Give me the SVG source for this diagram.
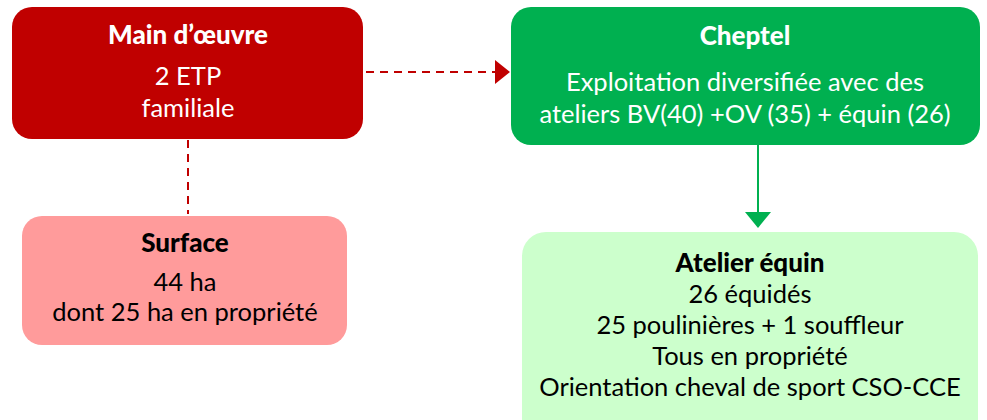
<svg xmlns="http://www.w3.org/2000/svg" width="987" height="420" viewBox="0 0 987 420">
<defs>
<style>
text{font-family:Lato,"Liberation Sans",sans-serif;font-size:25.5px;text-anchor:middle}
.b{font-weight:900;font-size:26px}
.w{fill:#ffffff}
.k{fill:#000000}
.dash{stroke:#C00000;stroke-width:2;stroke-dasharray:8,6;fill:none}
</style>
</defs>
<g id="connectors">
<line class="dash" x1="366" y1="72" x2="497" y2="72"/>
<path d="M495,60L510,72L495,84z" fill="#C00000"/>
<line class="dash" x1="188" y1="140" x2="188" y2="214"/>
<line x1="758" y1="145" x2="758" y2="214" stroke="#00B050" stroke-width="2"/>
<path d="M745,212L771,212L758,228z" fill="#00B050"/>
</g>
<g id="main">
<rect x="12" y="7" width="351" height="132" rx="20" fill="#C00000"/>
<text class="b w" x="188" y="44">Main d’œuvre</text>
<text class="w" x="188" y="85">2 ETP</text>
<text class="w" x="188" y="117">familiale</text>
</g>
<g id="cheptel">
<rect x="511" y="7" width="469" height="138" rx="20" fill="#00B050"/>
<text class="b w" x="745" y="45">Cheptel</text>
<text class="w" x="745" y="91">Exploitation diversifiée avec des</text>
<text class="w" x="745" y="123">ateliers BV(40) +OV (35) + équin (26)</text>
</g>
<g id="surface">
<rect x="22" y="216" width="325" height="129" rx="20" fill="#FF9B9B"/>
<text class="b k" x="185" y="252">Surface</text>
<text class="k" x="185" y="291">44 ha</text>
<text class="k" x="185" y="321">dont 25 ha en propriété</text>
</g>
<g id="atelier">
<rect x="522" y="232" width="456" height="210" rx="24" fill="#CCFFCC"/>
<text class="b k" x="750" y="272">Atelier équin</text>
<text class="k" x="750" y="303">26 équidés</text>
<text class="k" x="750" y="334">25 poulinières + 1 souffleur</text>
<text class="k" x="750" y="365">Tous en propriété</text>
<text class="k" x="750" y="396">Orientation cheval de sport CSO-CCE</text>
</g>
</svg>
